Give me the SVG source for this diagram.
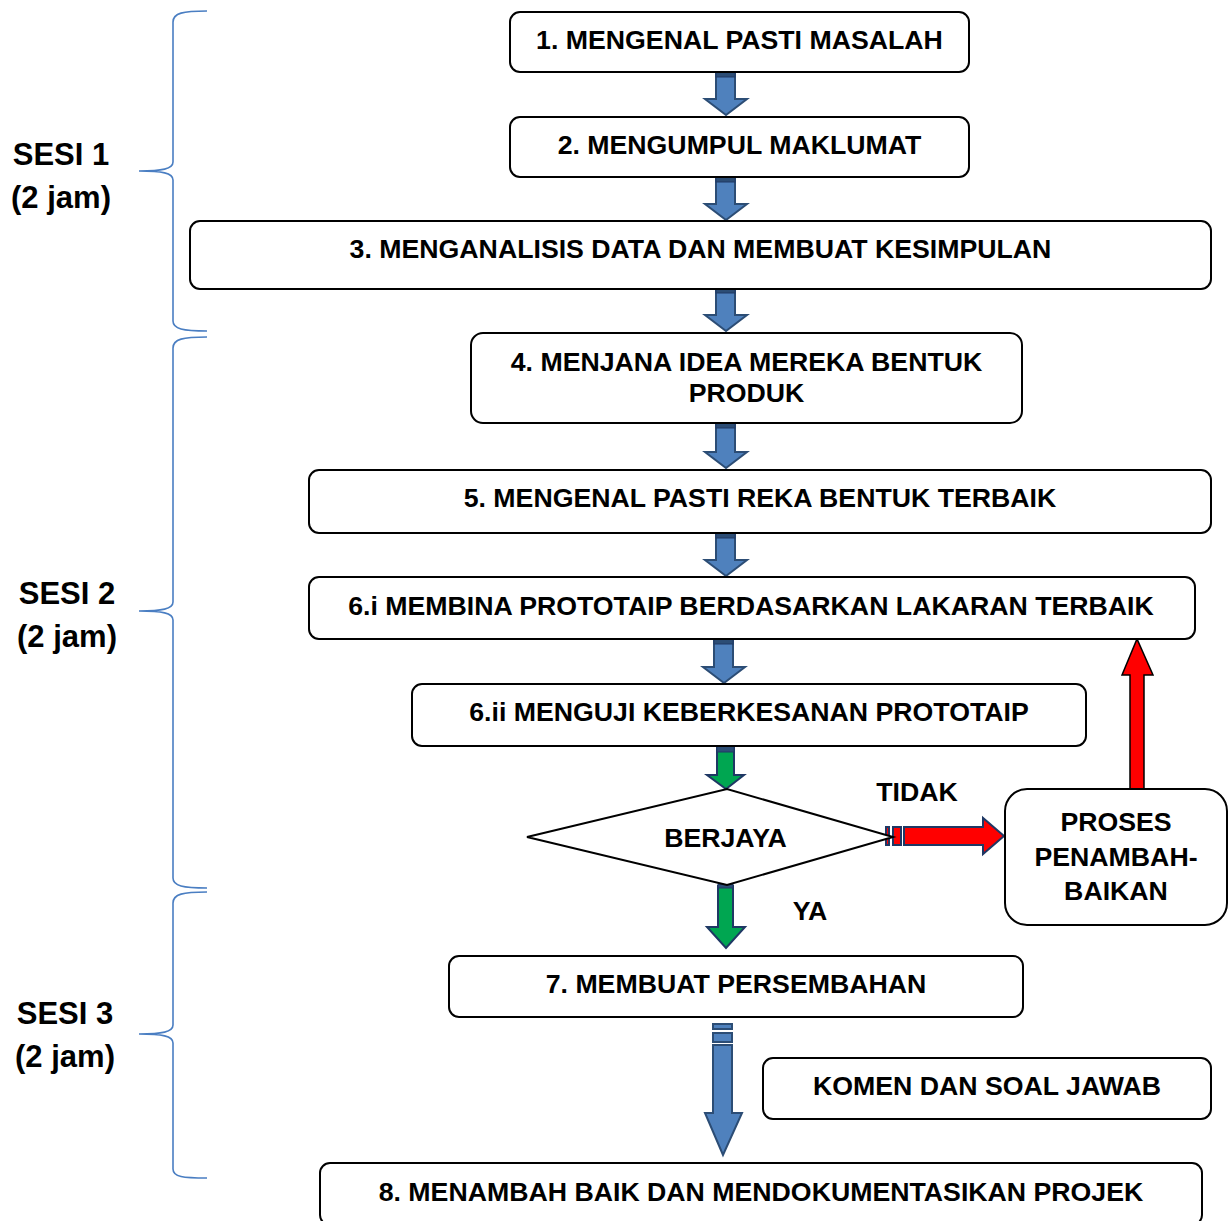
<svg xmlns="http://www.w3.org/2000/svg" width="1232" height="1221" viewBox="0 0 1232 1221">
<style>
.box{fill:#fff;stroke:#000;stroke-width:2}
.t{font-family:"Liberation Sans",Arial,sans-serif;font-weight:bold;font-size:26.7px;fill:#000;text-anchor:middle}
.s{font-family:"Liberation Sans",Arial,sans-serif;font-weight:bold;font-size:31px;fill:#000;text-anchor:middle}
.brace{fill:none;stroke:#4A7EC2;stroke-width:1.6}
.blue{fill:#4F81BD;stroke:#2C4D75;stroke-width:2}
.band{fill:#2C4D75;stroke:#1F3864;stroke-width:1}
.green{fill:#00A651;stroke:#1F3864;stroke-width:2}
.red{fill:#FF0000;stroke:#1F3864;stroke-width:2}
.redb{fill:#FF0000;stroke:#000;stroke-width:1.5}
</style>
<rect width="1232" height="1221" fill="#fff"/>
<g id="braces">
<path class="brace" d="M207,11 C183,11 173,13 173,22 L173,162 C173,169 162,171 139,171 C162,171 173,173 173,180 L173,321 C173,329 183,331 207,331"/>
<path class="brace" d="M207,337 C183,337 173,339 173,348 L173,602 C173,609 162,611 139,611 C162,611 173,613 173,620 L173,878 C173,886 183,888 207,888"/>
<path class="brace" d="M207,892 C183,892 173,894 173,903 L173,1025 C173,1032 162,1034 139,1034 C162,1034 173,1036 173,1043 L173,1169 C173,1177 183,1178 207,1178"/>
</g>
<g id="sesi1"><text class="s" x="61" y="165">SESI 1</text><text class="s" x="61" y="208">(2 jam)</text></g>
<g id="sesi2"><text class="s" x="67" y="604">SESI 2</text><text class="s" x="67" y="647">(2 jam)</text></g>
<g id="sesi3"><text class="s" x="65" y="1024">SESI 3</text><text class="s" x="65" y="1067">(2 jam)</text></g>
<g id="connectors">
<g><path class="blue" d="M716,71 H735 V99 H747 L726,115 L705,99 H716 Z"/><rect class="band" x="716" y="69" width="19" height="8"/></g>
<g><path class="blue" d="M716,176 H735 V204 H747 L726,220 L705,204 H716 Z"/><rect class="band" x="716" y="174" width="19" height="8"/></g>
<g><path class="blue" d="M716,287 H735 V315 H747 L726,331 L705,315 H716 Z"/><rect class="band" x="716" y="285" width="19" height="8"/></g>
<g><path class="blue" d="M716,422 H735 V452 H747 L726,468 L705,452 H716 Z"/><rect class="band" x="716" y="420" width="19" height="8"/></g>
<g><path class="blue" d="M716,532 H735 V560 H747 L726,576 L705,560 H716 Z"/><rect class="band" x="716" y="530" width="19" height="8"/></g>
<g><path class="blue" d="M714,638 H733 V667 H745 L724,683 L703,667 H714 Z"/><rect class="band" x="714" y="636" width="19" height="8"/></g>
<g><path class="green" d="M717,746 H734 V775 H744 L726,789 L707,775 H717 Z"/><rect class="band" x="717" y="745" width="17" height="7"/></g>
<g><path class="green" d="M718,886 H733 V927 H745 L726,948 L707,927 H718 Z"/><rect class="band" x="718" y="884" width="15" height="4"/></g>
<g><path class="red" d="M904,827 H983 V818 L1004,836 L983,854 V845 H904 Z"/><rect class="red" x="886" y="827" width="3" height="18" stroke-width="1.5"/><rect class="red" x="893" y="827" width="8" height="18" stroke-width="1.5"/></g>
<path class="redb" d="M1130,789 V675 H1122 L1137,639 L1153,675 H1144 V789 Z"/>
<g><path class="blue" d="M713,1045 H732 V1113 H742 L723,1155 L705,1113 H713 Z"/><rect class="blue" x="713" y="1024" width="19" height="5"/><rect class="blue" x="713" y="1033" width="19" height="9"/></g>
</g>
<g id="n1"><rect class="box" x="510" y="12" width="459" height="60" rx="10"/><text class="t" x="739.5" y="49">1. MENGENAL PASTI MASALAH</text></g>
<g id="n2"><rect class="box" x="510" y="117" width="459" height="60" rx="10"/><text class="t" x="739.5" y="154">2. MENGUMPUL MAKLUMAT</text></g>
<g id="n3"><rect class="box" x="190" y="221" width="1021" height="68" rx="10"/><text class="t" x="700.5" y="258">3. MENGANALISIS DATA DAN MEMBUAT KESIMPULAN</text></g>
<g id="n4"><rect class="box" x="471" y="333" width="551" height="90" rx="12"/><text class="t" x="746.5" y="371">4. MENJANA IDEA MEREKA BENTUK</text><text class="t" x="746.5" y="402">PRODUK</text></g>
<g id="n5"><rect class="box" x="309" y="470" width="902" height="63" rx="10"/><text class="t" x="760" y="507">5. MENGENAL PASTI REKA BENTUK TERBAIK</text></g>
<g id="n6i"><rect class="box" x="309" y="577" width="886" height="62" rx="10"/><text class="t" x="751" y="615">6.i MEMBINA PROTOTAIP BERDASARKAN LAKARAN TERBAIK</text></g>
<g id="n6ii"><rect class="box" x="412" y="684" width="674" height="62" rx="10"/><text class="t" x="749" y="721">6.ii MENGUJI KEBERKESANAN PROTOTAIP</text></g>
<g id="decision"><path class="box" d="M527,837 L727,789 L893,837 L727,885 Z"/><text class="t" x="725.5" y="847">BERJAYA</text></g>
<g id="lbl-tidak"><text class="t" x="917" y="801">TIDAK</text></g>
<g id="lbl-ya"><text class="t" x="810" y="920">YA</text></g>
<g id="proses"><rect class="box" x="1005" y="789" width="222" height="136" rx="22"/><text class="t" x="1116" y="831">PROSES</text><text class="t" x="1116" y="866">PENAMBAH-</text><text class="t" x="1116" y="900">BAIKAN</text></g>
<g id="n7"><rect class="box" x="449" y="956" width="574" height="61" rx="10"/><text class="t" x="736" y="993">7. MEMBUAT PERSEMBAHAN</text></g>
<g id="komen"><rect class="box" x="763" y="1058" width="448" height="61" rx="10"/><text class="t" x="987" y="1095">KOMEN DAN SOAL JAWAB</text></g>
<g id="n8"><rect class="box" x="320" y="1163" width="882" height="62" rx="10"/><text class="t" x="761" y="1201">8. MENAMBAH BAIK DAN MENDOKUMENTASIKAN PROJEK</text></g>
</svg>
